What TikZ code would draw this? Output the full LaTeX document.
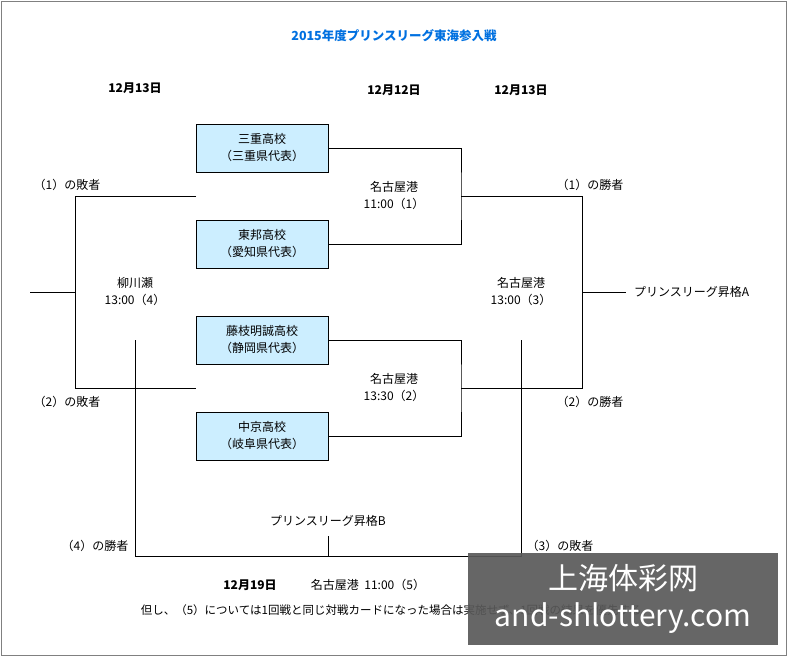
\documentclass[tikz,border=0pt]{standalone}
\usepackage{fontspec}
\setmainfont{Noto Sans CJK JP}
\usetikzlibrary{positioning}
\definecolor{boxblue}{HTML}{CCEEFF}
\definecolor{titleblue}{HTML}{0070E0}
\tikzset{
  team/.style={draw,fill=boxblue,minimum width=132pt,minimum height=48pt,align=center,inner sep=1pt},
  lbl/.style={align=center,inner sep=0pt},
  date/.style={inner sep=0pt,font=\fontsize{12}{15}\selectfont\bfseries},
  wire/.style={line width=0.6pt}
}
\begin{document}
\begin{tikzpicture}[x=1pt,y=-1pt,font=\fontsize{12}{17}\selectfont]
\useasboundingbox (0,0) rectangle (788,657);
\draw[gray] (1.5,1.5) rectangle (786.5,655.5);
\node[lbl,text=titleblue,font=\fontsize{12.5}{15}\selectfont\bfseries] (T) at (394,36) {2015年度プリンスリーグ東海参入戦};
%dates
\node[date] (D1) at (135,88) {12月13日};
\node[date] (D2) at (394,90) {12月12日};
\node[date] (D3) at (521,90) {12月13日};
%teams
\node[team] (S1) at (262,148) {三重高校\\（三重県代表）};
\node[team] (S2) at (262,244) {東邦高校\\（愛知県代表）};
\node[team] (S3) at (262,340) {藤枝明誠高校\\（静岡県代表）};
\node[team] (S4) at (262,436) {中京高校\\（岐阜県代表）};
%coordinates
\coordinate (M1) at (461,196);
\coordinate (M2) at (461,388);
\coordinate (L1) at (196,196);
\coordinate (L2) at (196,388);
\coordinate (R1) at (582,196);
\coordinate (R2) at (582,388);
\coordinate (LA) at (30,292);
\coordinate (RA) at (626,292);
\coordinate (B4) at (135,340);
\coordinate (B3) at (521,340);
\coordinate (BM) at (328,536);
%wires
\draw[wire] (S1.east) -| (M1) |- (S2.east);
\draw[wire] (S3.east) -| (M2) |- (S4.east);
\draw[wire] (M1) -- (R1) -- (R2) -- (M2);
\draw[wire] (L1) -| (75,388) -- (L2);
\draw[wire] (LA) -- (75,292);
\draw[wire] (582,292) -- (RA);
\draw[wire] (B4) |- (521,556) -- (B3);
\draw[wire] (328,556) -- (BM);
%labels
\node[lbl] (G1) at (394,196) {名古屋港\\11:00（1）};
\node[lbl] (G2) at (394,388) {名古屋港\\13:30（2）};
\node[lbl] (G4) at (135,292) {柳川瀬\\13:00（4）};
\node[lbl] (G3) at (521,292) {名古屋港\\13:00（3）};
\node[lbl] (W1) at (67,185) {（1）の敗者};
\node[lbl] (W2) at (67,402) {（2）の敗者};
\node[lbl] (V1) at (590,185) {（1）の勝者};
\node[lbl] (V2) at (590,402) {（2）の勝者};
\node[lbl,anchor=west] (PA) at (634,292) {プリンスリーグ昇格A};
\node[lbl] (PB) at (328,521) {プリンスリーグ昇格B};
\node[lbl] (V4) at (95,546) {（4）の勝者};
\node[lbl] (W3) at (560,546) {（3）の敗者};
\node[date] (D4) at (250,585) {12月19日};
\node[lbl] (G5) at (368,585) {名古屋港\ \ 11:00（5）};
\node[lbl,font=\fontsize{11.5}{14}\selectfont] (N) at (397,610) {但し、（5）については1回戦と同じ対戦カードになった場合は実施せず、1回戦の結果を優先する。};
%watermark
\fill[black!65,opacity=0.92] (468,553) rectangle (778,645);
\node[lbl,text=white,font=\fontsize{30}{37}\selectfont] (WM) at (623,599) {上海体彩网\\and-shlottery.com};
\end{tikzpicture}
\end{document}
